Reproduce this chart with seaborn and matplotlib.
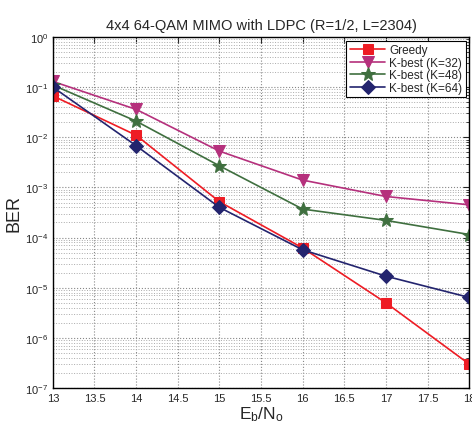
import pandas as pd
import matplotlib
matplotlib.use('Agg')
import matplotlib.pyplot as plt
import seaborn as sns
from matplotlib.ticker import LogLocator, NullFormatter

# Eb/No in dB
snr = [13, 14, 15, 16, 17, 18]

greedy = [0.067, 0.011, 5.2e-4, 6.2e-5, 5.0e-6, 3.0e-7]
kbest32 = [0.13, 0.036, 0.0053, 0.0014, 6.6e-4, 4.5e-4]
kbest48 = [0.11, 0.021, 0.0027, 3.7e-4, 2.2e-4, 1.15e-4]
kbest64 = [0.10, 0.0068, 4.0e-4, 5.7e-5, 1.7e-5, 6.4e-6]

names = ['Greedy', 'K-best (K=32)', 'K-best (K=48)', 'K-best (K=64)']
colors = ['#ee1c24', '#b5307c', '#3f6f3f', '#23246e']
markers = ['s', 'v', '*', 'D']
sizes = [7, 9, 10, 7]

rows = []
for name, vals in zip(names, [greedy, kbest32, kbest48, kbest64]):
    for x, v in zip(snr, vals):
        rows.append({'EbNo': x, 'BER': v, 'scheme': name})
df = pd.DataFrame(rows)

sns.set_style('white')
plt.rcParams['font.family'] = ['Liberation Sans', 'DejaVu Sans']
plt.rcParams['mathtext.fontset'] = 'custom'
plt.rcParams['mathtext.rm'] = 'Liberation Sans'
plt.rcParams['mathtext.it'] = 'Liberation Sans'

fig = plt.figure(figsize=(4.72, 4.27), dpi=100)
ax = fig.add_axes([0.112, 0.089, 0.882, 0.822])

for name, c, m, s in zip(names, colors, markers, sizes):
    sns.lineplot(data=df[df.scheme == name], x='EbNo', y='BER', ax=ax,
                 color=c, marker=m, markersize=s, markeredgecolor=c,
                 linewidth=1.2, label=name)

ax.set_yscale('log')
ax.set_xlim(13, 18)
ax.set_ylim(1e-7, 1)
ax.set_xticks([13, 13.5, 14, 14.5, 15, 15.5, 16, 16.5, 17, 17.5, 18])
ax.set_xticklabels(['13', '13.5', '14', '14.5', '15', '15.5', '16', '16.5', '17', '17.5', '18'])
ax.yaxis.set_major_locator(LogLocator(base=10, numticks=10))
ax.yaxis.set_minor_locator(LogLocator(base=10, subs=range(2, 10), numticks=20))
ax.yaxis.set_minor_formatter(NullFormatter())

ax.grid(True, which='major', linestyle=':', color='#888888', linewidth=0.8)
ax.grid(True, which='minor', axis='y', linestyle=':', color='#aaaaaa', linewidth=0.7)
ax.tick_params(which='both', direction='in', top=True, right=True, labelsize=8)
ax.tick_params(which='major', length=4)
ax.tick_params(which='minor', length=2)
for sp in ax.spines.values():
    sp.set_color('black')
    sp.set_linewidth(1.0)

ax.set_title('4x4 64-QAM MIMO with LDPC (R=1/2, L=2304)', fontsize=10.5, pad=6)
ax.set_ylabel('BER', fontsize=13, labelpad=2)
ax.set_xlabel(r'E$_\mathregular{b}$/N$_\mathregular{o}$', fontsize=12.5, labelpad=1)

leg = ax.legend(loc='upper right', fontsize=8.5, frameon=True, fancybox=False,
                edgecolor='black', framealpha=1, handlelength=3,
                borderpad=0.3, labelspacing=0.05, handletextpad=0.3,
                borderaxespad=0.3)
leg.get_frame().set_linewidth(0.8)

plt.savefig('out.png', dpi=100)
